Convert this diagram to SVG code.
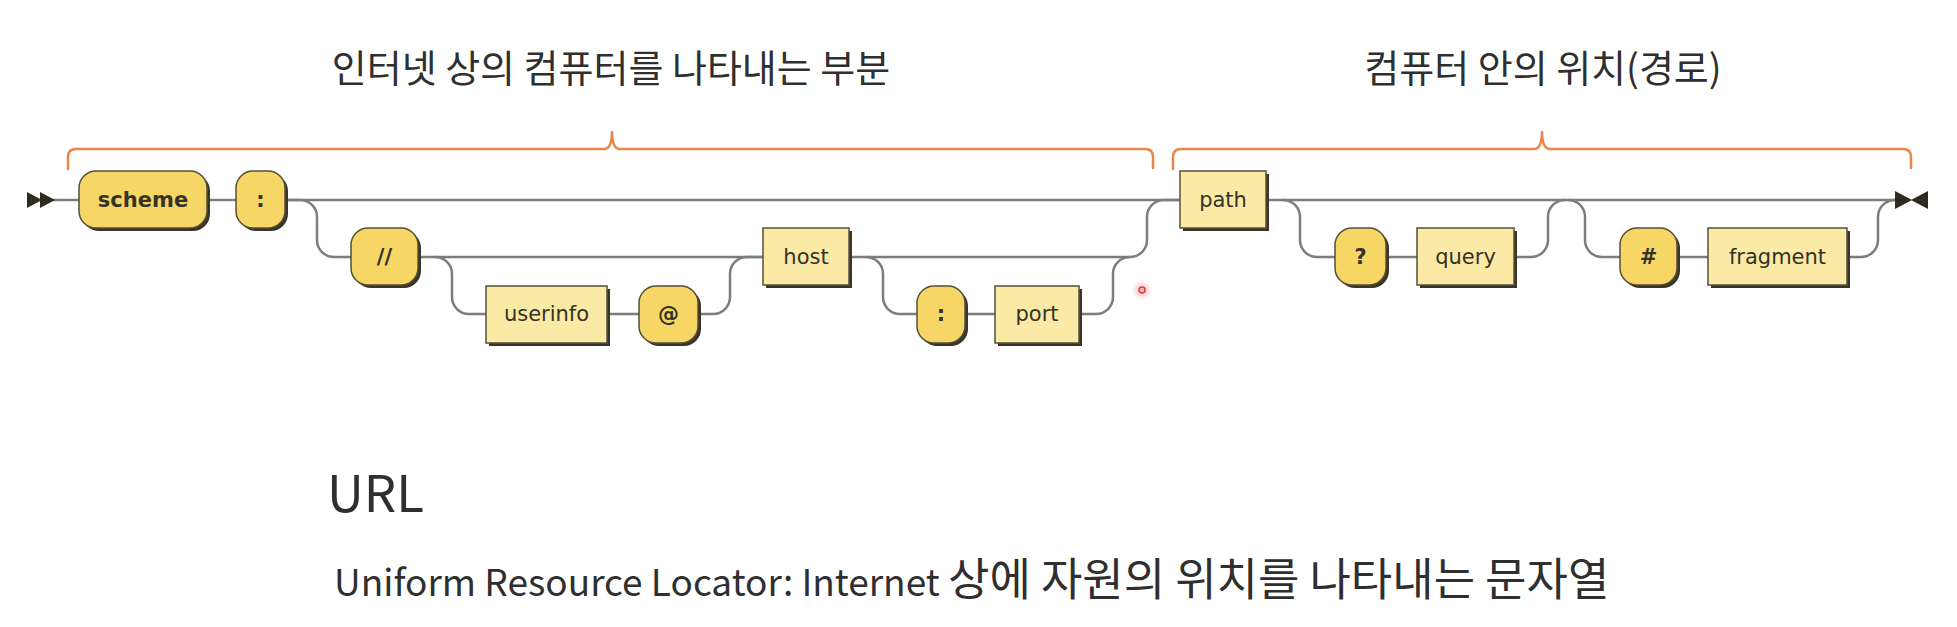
<svg xmlns="http://www.w3.org/2000/svg" width="1957" height="627" viewBox="0 0 1957 627">
<defs>
  <radialGradient id="glow">
    <stop offset="0" stop-color="#f26a6a" stop-opacity="0.55"/>
    <stop offset="1" stop-color="#f7a0a0" stop-opacity="0"/>
  </radialGradient>
</defs>
<style>
  .bg { fill: #ffffff; }
  .wire { fill: none; stroke: #7d7d7d; stroke-width: 2.5; }
  .brace { fill: none; stroke: #e8874a; stroke-width: 2.5; stroke-linecap: round; }
  .shadow { fill: #3a3526; }
  .term { fill: #f6d766; stroke: #55503a; stroke-width: 1.5; }
  .nonterm { fill: #fbe9a6; stroke: #55503a; stroke-width: 1.5; }
  .tlabel { font-family: "DejaVu Sans", sans-serif; font-size: 21px; font-weight: bold; fill: #333326; text-anchor: middle; dominant-baseline: central; }
  .nlabel { font-family: "DejaVu Sans", sans-serif; font-size: 21px; fill: #333326; text-anchor: middle; dominant-baseline: central; }
  .ko { font-family: "Noto Sans CJK KR", "Noto Sans", sans-serif; fill: #2f2f2f; }
  .arrow { fill: #2e2a1c; }
</style>
<rect class="bg" x="0" y="0" width="1957" height="627"/>

<g id="braces">
  <path class="brace" d="M68,169 V157 Q68,149 76,149 H604 Q612,149 612,131 Q612,149 620,149 H1145 Q1153,149 1153,157 V168"/>
  <path class="brace" d="M1173,169 V157 Q1173,149 1181,149 H1534 Q1542,149 1542,131 Q1542,149 1550,149 H1903 Q1911,149 1911,157 V168"/>
</g>

<g id="labels">
  <text class="ko" x="611" y="82" font-size="38" text-anchor="middle">인터넷 상의 컴퓨터를 나타내는 부분</text>
  <text class="ko" x="1543" y="82" font-size="38" text-anchor="middle">컴퓨터 안의 위치(경로)</text>
  <text class="ko" x="327" y="512" font-size="51">URL</text>
  <text class="ko" y="596"><tspan x="334" font-size="37">Uniform Resource Locator: Internet</tspan><tspan x="948" font-size="45">상에 자원의 위치를 나타내는 문자열</tspan></text>
</g>

<g id="connectors">
  <path class="wire" d="M53,200 H79"/>
  <path class="wire" d="M207,200 H236"/>
  <path class="wire" d="M285,200 H1180"/>
  <path class="wire" d="M285,200 H300 A17,17 0 0 1 317,217 V240 A17,17 0 0 0 334,257 H351"/>
  <path class="wire" d="M418,257 H763"/>
  <path class="wire" d="M435,257 A17,17 0 0 1 452,274 V297 A17,17 0 0 0 469,314 H486"/>
  <path class="wire" d="M607,314 H639"/>
  <path class="wire" d="M698,314 H713 A17,17 0 0 0 730,297 V274 A17,17 0 0 1 747,257 H763"/>
  <path class="wire" d="M849,257 H1130 A17,17 0 0 0 1147,240 V217 A17,17 0 0 1 1164,200 H1180"/>
  <path class="wire" d="M866,257 A17,17 0 0 1 883,274 V297 A17,17 0 0 0 900,314 H917"/>
  <path class="wire" d="M965,314 H995"/>
  <path class="wire" d="M1079,314 H1096 A17,17 0 0 0 1113,297 V274 A17,17 0 0 1 1130,257"/>
  <path class="wire" d="M1266,200 H1897"/>
  <path class="wire" d="M1283,200 A17,17 0 0 1 1300,217 V240 A17,17 0 0 0 1317,257 H1335"/>
  <path class="wire" d="M1386,257 H1417"/>
  <path class="wire" d="M1514,257 H1531 A17,17 0 0 0 1548,240 V217 A17,17 0 0 1 1565,200"/>
  <path class="wire" d="M1568,200 A17,17 0 0 1 1585,217 V240 A17,17 0 0 0 1602,257 H1620"/>
  <path class="wire" d="M1677,257 H1708"/>
  <path class="wire" d="M1847,257 H1861 A17,17 0 0 0 1878,240 V217 A17,17 0 0 1 1895,200"/>
</g>

<g id="start">
  <polygon class="arrow" points="27,192 42,200 27,208"/>
  <polygon class="arrow" points="40,192 55,200 40,208"/>
</g>
<g id="end">
  <polygon class="arrow" points="1895,191 1912,200 1895,209"/>
  <polygon class="arrow" points="1928,191 1911,200 1928,209"/>
</g>

<g id="scheme">
  <rect class="shadow" x="82" y="174" width="128" height="57" rx="17"/>
  <rect class="term" x="79" y="171" width="128" height="57" rx="17"/>
  <text class="tlabel" x="143" y="200">scheme</text>
</g>
<g id="colon1">
  <rect class="shadow" x="239" y="174" width="49" height="57" rx="17"/>
  <rect class="term" x="236" y="171" width="49" height="57" rx="17"/>
  <text class="tlabel" x="260.5" y="200">:</text>
</g>
<g id="slashes">
  <rect class="shadow" x="354" y="231" width="67" height="57" rx="17"/>
  <rect class="term" x="351" y="228" width="67" height="57" rx="17"/>
  <text class="tlabel" x="384.5" y="257">//</text>
</g>
<g id="userinfo">
  <rect class="shadow" x="489" y="289" width="121" height="57"/>
  <rect class="nonterm" x="486" y="286" width="121" height="57"/>
  <text class="nlabel" x="546.5" y="314">userinfo</text>
</g>
<g id="at">
  <rect class="shadow" x="642" y="289" width="59" height="57" rx="17"/>
  <rect class="term" x="639" y="286" width="59" height="57" rx="17"/>
  <text class="tlabel" x="668.5" y="314">@</text>
</g>
<g id="host">
  <rect class="shadow" x="766" y="231" width="86" height="57"/>
  <rect class="nonterm" x="763" y="228" width="86" height="57"/>
  <text class="nlabel" x="806" y="257">host</text>
</g>
<g id="colon2">
  <rect class="shadow" x="920" y="289" width="48" height="57" rx="17"/>
  <rect class="term" x="917" y="286" width="48" height="57" rx="17"/>
  <text class="tlabel" x="941" y="314">:</text>
</g>
<g id="port">
  <rect class="shadow" x="998" y="289" width="84" height="57"/>
  <rect class="nonterm" x="995" y="286" width="84" height="57"/>
  <text class="nlabel" x="1037" y="314">port</text>
</g>
<g id="path">
  <rect class="shadow" x="1183" y="174" width="86" height="57"/>
  <rect class="nonterm" x="1180" y="171" width="86" height="57"/>
  <text class="nlabel" x="1223" y="200">path</text>
</g>
<g id="question">
  <rect class="shadow" x="1338" y="231" width="51" height="57" rx="17"/>
  <rect class="term" x="1335" y="228" width="51" height="57" rx="17"/>
  <text class="tlabel" x="1360.5" y="257">?</text>
</g>
<g id="query">
  <rect class="shadow" x="1420" y="231" width="97" height="57"/>
  <rect class="nonterm" x="1417" y="228" width="97" height="57"/>
  <text class="nlabel" x="1465.5" y="257">query</text>
</g>
<g id="hash">
  <rect class="shadow" x="1623" y="231" width="57" height="57" rx="17"/>
  <rect class="term" x="1620" y="228" width="57" height="57" rx="17"/>
  <text class="tlabel" x="1648.5" y="257">#</text>
</g>
<g id="fragment">
  <rect class="shadow" x="1711" y="231" width="139" height="57"/>
  <rect class="nonterm" x="1708" y="228" width="139" height="57"/>
  <text class="nlabel" x="1777.5" y="257">fragment</text>
</g>

<g id="pointer">
  <circle cx="1142" cy="290" r="11" fill="url(#glow)"/>
  <circle cx="1142" cy="290" r="3" fill="none" stroke="#d94040" stroke-width="1.5"/>
</g>
</svg>
